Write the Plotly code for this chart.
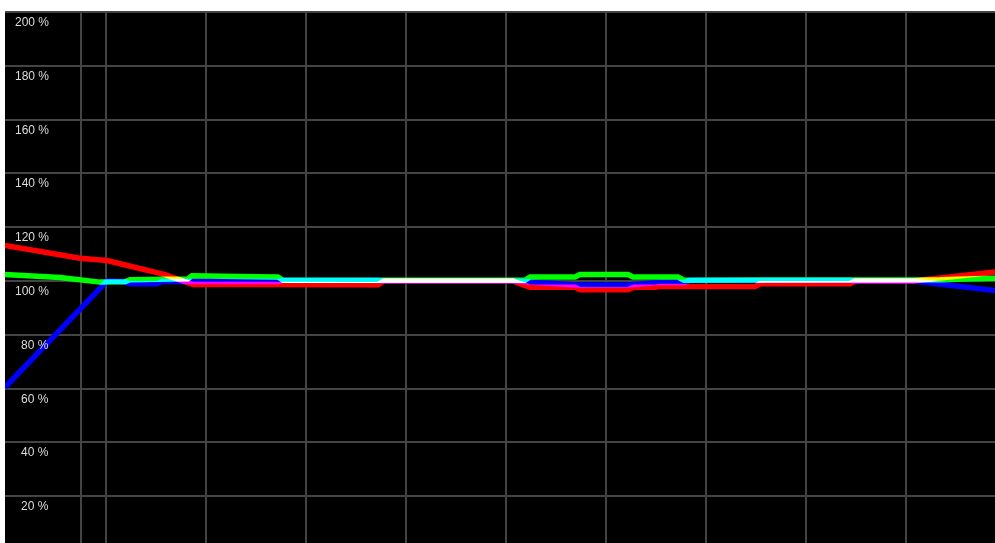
import plotly.graph_objects as go

# y-axis percent labels
y_ticks = [20, 40, 60, 80, 100, 120, 140, 160, 180, 200]
y_labels = ["20 %", "40 %", "60 %", "80 %", "100 %", "120 %", "140 %", "160 %", "180 %", "200 %"]
# vertical grid positions (x units)
x_grid = [7.5, 10, 20, 30, 40, 50, 60, 70, 80, 90]

red_x = [-0.1, 7.4, 10.1, 15.9, 18.7, 27.2, 37.2, 37.8, 50.7, 51.4, 52.4, 56.9, 57.4, 62.2, 62.8,
         64.9, 65.4, 74.9, 75.4, 84.4, 84.9, 90.7, 94.9, 98.9]
red_y = [113.2, 108.5, 107.6, 102.4, 98.7, 98.6, 98.6, 100, 100, 99, 97.7, 97.7, 96.8, 96.8, 97.7,
         97.7, 98, 98, 99, 99, 100, 100, 101.8, 103.4]

green_x = [-0.1, 5.4, 9.4, 10.1, 11.9, 12.4, 15.1, 18.2, 18.6, 22.2, 22.7, 27.2, 27.7, 37.2, 37.8,
           50.7, 51.9, 52.4, 56.9, 57.4, 62.2, 62.7, 67.2, 67.8, 84.4, 84.9, 90.7, 93.4, 98.9]
green_y = [102.4, 101.3, 99.6, 99.7, 99.7, 100.5, 100.5, 100.8, 102, 102, 101.5, 101.5, 100.3, 100.3, 100,
           100, 100.3, 101.5, 101.5, 102.4, 102.4, 101.5, 101.5, 100.3, 100.3, 100, 100, 100.5, 101]

blue_x = [-0.1, 10.1, 11.9, 12.4, 15.1, 15.6, 27.2, 27.7, 37.2, 37.8, 50.7, 51.9, 54.6, 57.1, 62.2,
          64.6, 65.4, 67.9, 68.4, 84.4, 84.9, 90.7, 91.9, 94.9, 98.9]
blue_y = [60.5, 100, 99.7, 99, 99, 99.8, 99.8, 100.3, 100.3, 100, 100, 99.8, 99, 98.5, 98.5,
          99, 99.5, 99.5, 100.3, 100.3, 100, 100, 99.5, 98.1, 96.5]

fig = go.Figure()
for xs, ys, col in [(red_x, red_y, "#ff0000"), (green_x, green_y, "#00ff00"), (blue_x, blue_y, "#0000ff")]:
    fig.add_trace(go.Scatter(x=xs, y=ys, mode="lines", line=dict(color=col, width=5.5),
                             showlegend=False, hoverinfo="skip"))

for v, t in zip(y_ticks, y_labels):
    fig.add_annotation(x=0.0465, xref="paper", y=v, yref="y", text=t, showarrow=False,
                       xanchor="right", yanchor="top", yshift=-1,
                       font=dict(family="Liberation Sans", size=12, color="#dcdcdc"))

fig.update_layout(
    width=995, height=543,
    margin=dict(l=5, r=0, t=11, b=0),
    paper_bgcolor="white", plot_bgcolor="black",
    xaxis=dict(range=[-0.1, 98.9], tickmode="array", tickvals=x_grid, showticklabels=False,
               showgrid=True, gridcolor="#444444", gridwidth=2, zeroline=False, ticks=""),
    yaxis=dict(range=[2.6, 200.4], tickmode="array", tickvals=y_ticks, showticklabels=False,
               showgrid=True, gridcolor="#444444", gridwidth=2, zeroline=False, ticks=""),
)

js = """
document.body.style.margin='0';
var gd=document.getElementById('{plot_id}');
function blend(){gd.querySelectorAll('.scatterlayer .trace').forEach(function(t){t.style.mixBlendMode='screen';});}
blend();
if (gd.on) { gd.on('plotly_afterplot', blend); }
"""

fig.write_html("out.html", post_script=js, config={"displayModeBar": False})
